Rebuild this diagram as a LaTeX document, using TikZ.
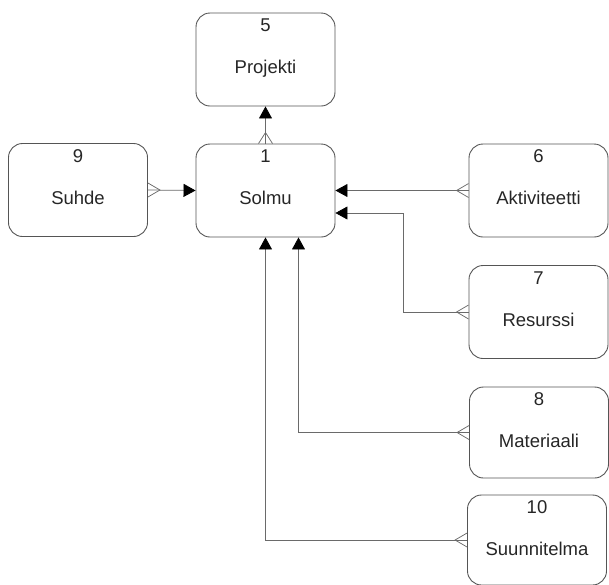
\documentclass[tikz,border=0pt]{standalone}
\usepackage{fontspec}
\setmainfont{Liberation Sans}
\usetikzlibrary{arrows.meta}
\definecolor{boxline}{HTML}{555555}
\definecolor{linkline}{HTML}{6A6A6A}
\definecolor{inktext}{HTML}{262626}
\begin{document}
\begin{tikzpicture}[x=1pt,y=-1pt,
  entity/.style={draw=boxline, line width=0.9pt, rounded corners=14pt,
    minimum width=139pt, minimum height=93pt, inner sep=0pt},
  idtext/.style={text=inktext, anchor=base, font=\fontsize{18.5}{20}\selectfont},
  nametext/.style={text=inktext, anchor=base, font=\fontsize{18.5}{20}\selectfont},
  link/.style={draw=linkline, line width=0.75pt},
  tohead/.style={link, -{Triangle[length=12pt,width=13pt,color=black]}},
]
\useasboundingbox (0,0) rectangle (609,584);

% entity boxes
\node[entity] (proj) at (265.5,59.5) {};
\node[entity] (sol)  at (265.5,190.5) {};
\node[entity] (suh)  at (78,190) {};
\node[entity] (akt)  at (538.5,190.5) {};
\node[entity] (res)  at (538.5,312) {};
\node[entity, minimum height=91pt] (mat) at (539,432.5) {};
\node[entity, minimum height=90pt] (suu) at (537,540) {};

% numbers and names
\foreach \n/\id/\nm in {proj/5/Projekti, sol/1/Solmu, suh/9/Suhde,
    akt/6/Aktiviteetti, res/7/Resurssi, mat/8/Materiaali, suu/10/Suunnitelma}{
  \node[idtext] (\n-id) at ([yshift=-19pt]\n.north) {\id};
  \node[nametext] (\n-nm) at ([yshift=-61pt]\n.north) {\nm};
}

% bend point of the routed connector from Resurssi
\coordinate (resbend) at (403,213);

% connectors, arrowhead at the referenced entity
\draw[tohead] (sol.north) -- (proj.south);
\draw[tohead] (suh.east) -- (sol.west);
\draw[tohead] (akt.west) -- (sol.east);
\draw[tohead] (res.west) -| (resbend) -- ([yshift=-22.5pt]sol.east);
\draw[tohead] (mat.west) -| ([xshift=33pt]sol.south);
\draw[tohead] (suu.west) -| (sol.south);

% crow's feet at the many side
\draw[link] ([xshift=-7pt]sol.north) -- ([yshift=11pt]sol.north) -- ([xshift=7pt]sol.north);
\draw[link] ([yshift=7pt]suh.east) -- ([xshift=12pt]suh.east) -- ([yshift=-7pt]suh.east);
\draw[link] ([yshift=7pt]akt.west) -- ([xshift=-12pt]akt.west) -- ([yshift=-7pt]akt.west);
\draw[link] ([yshift=7pt]res.west) -- ([xshift=-12pt]res.west) -- ([yshift=-7pt]res.west);
\draw[link] ([yshift=7pt]mat.west) -- ([xshift=-12pt]mat.west) -- ([yshift=-7pt]mat.west);
\draw[link] ([yshift=7pt]suu.west) -- ([xshift=-12pt]suu.west) -- ([yshift=-7pt]suu.west);
\end{tikzpicture}
\end{document}
